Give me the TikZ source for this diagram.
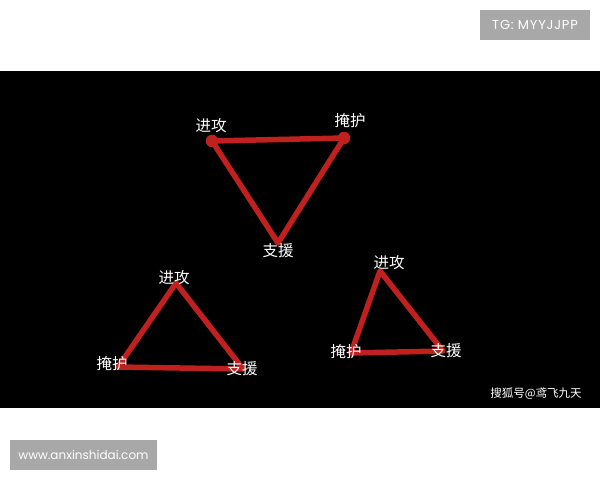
\documentclass[tikz,border=0pt]{standalone}
\usepackage{fontspec}
\setsansfont{Poppins}
\newfontfamily\tgfont[LetterSpace=6]{Poppins}
\newfontfamily\cjk{Noto Sans CJK SC}
\definecolor{tri}{HTML}{C0201E}
\definecolor{boxgrey}{HTML}{A8A8A8}
\begin{document}
\begin{tikzpicture}[x=1pt,y=-1pt,
  edge/.style={draw=tri,line width=5.5pt,line join=round,line cap=round},
  lbl/.style={text=white,font=\cjk\fontsize{15.5}{15.5}\selectfont,inner sep=0pt},
  vdot/.style={circle,fill=tri,minimum size=12.5pt,inner sep=0pt}]
\useasboundingbox (0,0) rectangle (600,480);
\fill[white] (0,0) rectangle (600,480);
\fill[black] (0,71) rectangle (600,408);
% grey boxes
\node[fill=boxgrey,minimum width=110pt,minimum height=30pt,inner sep=0pt,text=white,font=\tgfont\fontsize{13}{13}\selectfont] (tg) at (535,25) {TG: MYYJJPP};
\node[fill=boxgrey,minimum width=147pt,minimum height=30pt,inner sep=0pt,text=white,font=\sffamily\fontsize{12}{12}\selectfont] (www) at (83.5,454.5) {www.anxinshidai.com};
% triangle 1
\coordinate (a1) at (212,141);
\coordinate (b1) at (344,138);
\coordinate (c1) at (278,243);
\draw[edge] (a1) -- (b1) -- (c1) -- cycle;
\node[vdot] (da1) at (a1) {};
\node[vdot] (db1) at (b1) {};
\node[lbl] (la1) at (211,126) {进攻};
\node[lbl] (lb1) at (350,121) {掩护};
\node[lbl] (lc1) at (278,251) {支援};
% triangle 2
\coordinate (a2) at (176,283);
\coordinate (b2) at (118,367);
\coordinate (c2) at (243,369);
\draw[edge] (a2) -- (b2) -- (c2) -- cycle;
\node[lbl] (la2) at (174,278) {进攻};
\node[lbl] (lb2) at (112,364) {掩护};
\node[lbl] (lc2) at (242,369) {支援};
% triangle 3
\coordinate (a3) at (380,271);
\coordinate (b3) at (351,353);
\coordinate (c3) at (443,351);
\draw[edge] (a3) -- (b3) -- (c3) -- cycle;
\node[lbl] (la3) at (389,263) {进攻};
\node[lbl] (lb3) at (346,352) {掩护};
\node[lbl] (lc3) at (446,351) {支援};
% watermark
\node[text=white,font=\cjk\fontsize{11.5}{11.5}\selectfont,inner sep=0pt] (wm) at (536,394) {搜狐号@鸢飞九天};
\end{tikzpicture}
\end{document}
